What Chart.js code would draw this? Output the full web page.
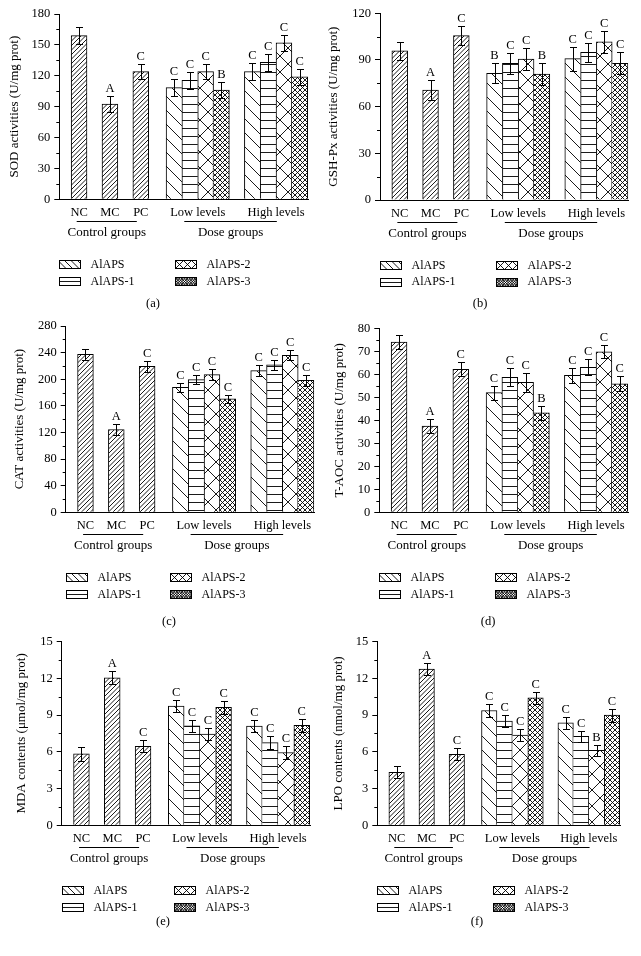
<!DOCTYPE html>
<html>
<head>
<meta charset="utf-8">
<script src="https://cdn.jsdelivr.net/npm/chart.js@4.4.1/dist/chart.umd.min.js"></script>
<style>
html, body { margin: 0; padding: 0; background: #fff; width: 641px; height: 956px; overflow: hidden; position: relative; }
canvas { position: absolute; }
</style>
</head>
<body>
<canvas id="chartA"></canvas>
<canvas id="chartB"></canvas>
<canvas id="chartC"></canvas>
<canvas id="chartD"></canvas>
<canvas id="chartE"></canvas>
<canvas id="chartF"></canvas>
<script>
const FONT = '"Liberation Serif", "DejaVu Serif", serif';

// categories / series
const groupLabels = ['NC', 'MC', 'PC', 'Low levels', 'High levels'];
const seriesNames = ['AlAPS', 'AlAPS-1', 'AlAPS-2', 'AlAPS-3'];

// (a) SOD, order NC MC PC | low: AlAPS..AlAPS-3 | high: AlAPS..AlAPS-3
const sodControl = [159, 92.5, 124];
const sodLow = [108.5, 115.5, 124, 106];
const sodHigh = [124, 133, 152, 119];
const sodErr = [8, 8, 7.5, 8, 8, 7, 8, 8.5, 8, 8, 8];
const sodLetters = ['', 'A', 'C', 'C', 'C', 'C', 'B', 'C', 'C', 'C', 'C'];

// (b) GSH-Px
const gshControl = [95.8, 70.7, 105.6];
const gshLow = [81.4, 87.9, 90.6, 81];
const gshHigh = [90.9, 94.9, 101.6, 87.9];
const gshErr = [6, 6.4, 6, 6.5, 6.8, 7, 7, 7.7, 6.2, 7, 7];
const gshLetters = ['', 'A', 'C', 'B', 'C', 'C', 'B', 'C', 'C', 'C', 'C'];

// (c) CAT
const catControl = [237.5, 124.5, 219.5];
const catLow = [188, 199.5, 207, 170.5];
const catHigh = [213, 221.5, 236, 198.5];
const catErr = [8, 8, 8.5, 7, 6.5, 8, 6.5, 8, 8, 7.5, 8];
const catLetters = ['', 'A', 'C', 'C', 'C', 'C', 'C', 'C', 'C', 'C', 'C'];

// (d) T-AOC
const aocControl = [74, 37.5, 62.2];
const aocLow = [52, 58.7, 56.5, 43.2];
const aocHigh = [59.5, 63, 69.8, 55.9];
const aocErr = [3, 3, 3, 3, 4, 4, 3, 3.3, 3.5, 2.8, 3.3];
const aocLetters = ['', 'A', 'C', 'C', 'C', 'C', 'B', 'C', 'C', 'C', 'C'];

// (e) MDA
const mdaControl = [5.83, 12.04, 6.45];
const mdaLow = [9.73, 8.12, 7.45, 9.62];
const mdaHigh = [8.09, 6.75, 5.94, 8.15];
const mdaErr = [0.55, 0.54, 0.5, 0.5, 0.5, 0.5, 0.5, 0.5, 0.5, 0.5, 0.5];
const mdaLetters = ['', 'A', 'C', 'C', 'C', 'C', 'C', 'C', 'C', 'C', 'C'];

// (f) LPO
const lpoControl = [4.33, 12.75, 5.79];
const lpoLow = [9.37, 8.5, 7.37, 10.4];
const lpoHigh = [8.37, 7.26, 6.12, 8.99];
const lpoErr = [0.5, 0.5, 0.5, 0.5, 0.5, 0.5, 0.5, 0.5, 0.45, 0.46, 0.54];
const lpoLetters = ['', 'A', 'C', 'C', 'C', 'C', 'C', 'C', 'C', 'B', 'C'];

// layout of the bars along the x axis (in bar widths)
const barPos = [1.25, 3.2, 5.15, 7.25, 8.25, 9.25, 10.25, 12.2, 13.2, 14.2, 15.2];
const tickPos = [1.25, 3.2, 5.15, 8.75, 13.7];
const xMax = 15.72;
const barKinds = ['fwd', 'fwd', 'fwd', 'back', 'horiz', 'cross', 'dense', 'back', 'horiz', 'cross', 'dense'];
const legendKinds = ['back', 'horiz', 'cross', 'dense'];

const CW = 330, CH = 326, XH = 20;

const patternCache = {};
const makePattern = (kind) => {
    if (patternCache[kind]) return patternCache[kind];
    const spec = {
        fwd: [9, 4.5, ['/']],
        back: [14, 14, ['\\']],
        horiz: [8, 8, ['-']],
        cross: [16, 16, ['/', '\\']],
        dense: [5, 5, ['/', '\\']]
    }[kind];
    const [size, step, dirs] = spec;
    const c = document.createElement('canvas');
    c.width = size;
    c.height = size;
    const g = c.getContext('2d');
    g.fillStyle = '#fff';
    g.fillRect(0, 0, size, size);
    g.strokeStyle = '#000';
    g.lineWidth = 0.9;
    g.beginPath();
    dirs.forEach(d => {
        if (d === '-') {
            for (let k = 0; k < size; k += step) { g.moveTo(0, k + 0.5); g.lineTo(size, k + 0.5); }
        } else {
            for (let k = -2 * size; k <= 3 * size; k += step) {
                if (d === '/') { g.moveTo(k, 0); g.lineTo(k - size, size); }
                else { g.moveTo(k, 0); g.lineTo(k + size, size); }
            }
        }
    });
    g.stroke();
    patternCache[kind] = g.createPattern(c, 'repeat');
    return patternCache[kind];
};

// smaller hatch for the legend boxes
const drawSwatch = (ctx, x, y, w, h, kind) => {
    const [step, dirs] = {
        back: [6.5, ['\\']],
        horiz: [4, ['-']],
        cross: [8, ['/', '\\']],
        dense: [2.6, ['/', '\\']]
    }[kind];
    ctx.save();
    ctx.fillStyle = '#fff';
    ctx.fillRect(x, y, w, h);
    ctx.beginPath();
    ctx.rect(x, y, w, h);
    ctx.clip();
    ctx.beginPath();
    ctx.lineWidth = 0.9;
    dirs.forEach(d => {
        if (d === '-') {
            for (let k = y + step; k < y + h; k += step) { ctx.moveTo(x, k); ctx.lineTo(x + w, k); }
        } else if (d === '\\') {
            for (let k = x - h; k < x + w; k += step) { ctx.moveTo(k, y); ctx.lineTo(k + h, y + h); }
        } else {
            for (let k = x; k < x + w + h; k += step) { ctx.moveTo(k, y); ctx.lineTo(k - h, y + h); }
        }
    });
    ctx.stroke();
    ctx.restore();
    ctx.strokeRect(x, y, w, h);
};

// adjacent bars share one edge, drawn by the taller one
const edgeWidths = (vals, i) => {
    const w = { top: 1, left: 1, right: 1, bottom: 0 };
    const adj = (a, b) => Math.abs(barPos[b] - barPos[a] - 1) < 0.01;
    if (i > 0 && adj(i - 1, i) && vals[i - 1] > vals[i]) w.left = 0;
    if (i < vals.length - 1 && adj(i, i + 1) && vals[i + 1] >= vals[i]) w.right = 0;
    return w;
};

const extrasPlugin = (p, values) => ({
    id: 'extras',
    afterDraw(chart) {
        const ctx = chart.ctx;
        const xs = chart.scales.x;
        const ys = chart.scales.y;
        const meta = chart.getDatasetMeta(0);
        const zero = p.zero - p.cy;
        const axisX = p.axisX - p.cx;
        ctx.save();
        ctx.strokeStyle = '#000';
        ctx.fillStyle = '#000';
        ctx.lineWidth = 1;

        // error bars and letters
        ctx.font = '12.5px ' + FONT;
        ctx.textAlign = 'center';
        ctx.textBaseline = 'alphabetic';
        values.forEach((v, i) => {
            const bar = meta.data[i];
            const x = Math.round(bar.x) + 0.5;
            const yt = Math.round(ys.getPixelForValue(v + p.err[i])) + 0.5;
            const yb = Math.round(ys.getPixelForValue(v - p.err[i])) + 0.5;
            ctx.beginPath();
            ctx.moveTo(x, yt); ctx.lineTo(x, yb);
            ctx.moveTo(x - 3.5, yt); ctx.lineTo(x + 3.5, yt);
            ctx.moveTo(x - 3.5, yb); ctx.lineTo(x + 3.5, yb);
            ctx.stroke();
            if (p.letters[i]) ctx.fillText(p.letters[i], bar.x, yt - 4.5);
        });

        // minor ticks on y axis
        ctx.beginPath();
        for (let v = p.step / 2; v < p.max; v += p.step) {
            const y = Math.round(ys.getPixelForValue(v)) + 0.5;
            ctx.moveTo(axisX - 3, y); ctx.lineTo(axisX, y);
        }
        ctx.stroke();

        // group brackets
        const groups = [[1.1, 4.9, 'Control groups'], [7.9, 13.75, 'Dose groups']];
        ctx.font = '13px ' + FONT;
        ctx.textBaseline = 'middle';
        groups.forEach(([a, b, label]) => {
            const xa = xs.getPixelForValue(a);
            const xb = xs.getPixelForValue(b);
            ctx.beginPath();
            ctx.moveTo(xa, Math.round(zero + 22) + 0.5);
            ctx.lineTo(xb, Math.round(zero + 22) + 0.5);
            ctx.stroke();
            ctx.fillText(label, (xa + xb) / 2, zero + 33.5);
        });

        // legend, two columns
        const order = [0, 2, 1, 3];
        ctx.font = '12px ' + FONT;
        ctx.textAlign = 'left';
        order.forEach((s, k) => {
            const col = k % 2;
            const row = Math.floor(k / 2);
            const lx = Math.round(axisX + (col === 0 ? 0 : p.leg2)) + 0.5;
            const ly = zero + (row === 0 ? 65 : 81.7);
            drawSwatch(ctx, lx, Math.round(ly - 4) + 0.5, 21, 8, legendKinds[s]);
            ctx.fillStyle = '#000';
            ctx.fillText(seriesNames[s], lx + 31, ly + 0.5);
        });

        // panel label
        ctx.textAlign = 'center';
        ctx.font = '12.5px ' + FONT;
        ctx.fillText(p.label, p.lx - p.cx, p.ly - p.cy);
        ctx.restore();
    }
});

const buildPanel = (id, p) => {
    const canvas = document.getElementById(id);
    canvas.width = CW;
    canvas.height = CH;
    canvas.style.left = p.cx + 'px';
    canvas.style.top = p.cy + 'px';
    const values = [...p.control, ...p.low, ...p.high];
    const padL = p.titleX - p.cx - 7.8;
    const yWidth = p.axisX - p.cx - padL;
    const plotBottom = p.zero - p.cy;
    return new Chart(canvas, {
        type: 'bar',
        data: {
            datasets: [{
                data: barPos.map((x, i) => ({ x, y: values[i] })),
                backgroundColor: barKinds.map(makePattern),
                borderColor: '#000',
                borderWidth: (c) => edgeWidths(values, c.dataIndex),
                borderSkipped: 'start',
                barPercentage: 1,
                categoryPercentage: 1
            }]
        },
        options: {
            responsive: false,
            animation: false,
            events: [],
            layout: {
                padding: {
                    left: padL,
                    top: p.top - p.cy,
                    right: CW - (p.right - p.cx),
                    bottom: CH - plotBottom - XH
                }
            },
            plugins: { legend: { display: false }, tooltip: { enabled: false } },
            scales: {
                x: {
                    type: 'linear',
                    min: 0,
                    max: xMax,
                    offset: false,
                    grid: { display: false, drawTicks: false },
                    border: { display: true, color: '#000', width: 1 },
                    afterBuildTicks: (ax) => { ax.ticks = tickPos.map(v => ({ value: v })); },
                    afterFit: (s) => { s.height = XH; },
                    ticks: {
                        autoSkip: false, maxRotation: 0, minRotation: 0, padding: 6,
                        color: '#000', font: { family: FONT, size: 12.5 },
                        callback: (v, i) => groupLabels[i]
                    }
                },
                y: {
                    min: 0,
                    max: p.max,
                    afterFit: (s) => { s.width = yWidth; },
                    ticks: { stepSize: p.step, padding: 4, color: '#000', font: { family: FONT, size: 12.5 } },
                    grid: { drawOnChartArea: false, drawTicks: true, tickLength: 5, color: '#000' },
                    border: { display: true, color: '#000', width: 1 },
                    title: { display: true, text: p.title, color: '#000', font: { family: FONT, size: 13 }, padding: 0 }
                }
            }
        },
        plugins: [extrasPlugin(p, values)]
    });
};

buildPanel('chartA', { cx: 0, cy: 0, axisX: 59.3, right: 308, top: 14, zero: 199.3, titleX: 15, leg2: 116, lx: 153, ly: 304, label: '(a)',
    title: 'SOD activities (U/mg prot)', max: 180, step: 30,
    control: sodControl, low: sodLow, high: sodHigh, err: sodErr, letters: sodLetters });
buildPanel('chartB', { cx: 320, cy: 0, axisX: 380, right: 628.3, top: 13.3, zero: 200, titleX: 333.3, leg2: 116, lx: 480, ly: 304, label: '(b)',
    title: 'GSH-Px activities (U/mg prot)', max: 120, step: 30,
    control: gshControl, low: gshLow, high: gshHigh, err: gshErr, letters: gshLetters });
buildPanel('chartC', { cx: 0, cy: 310, axisX: 65.7, right: 314.3, top: 326, zero: 512.3, titleX: 20, leg2: 104, lx: 169, ly: 622, label: '(c)',
    title: 'CAT activities (U/mg prot)', max: 280, step: 40,
    control: catControl, low: catLow, high: catHigh, err: catErr, letters: catLetters });
buildPanel('chartD', { cx: 320, cy: 310, axisX: 379.3, right: 628, top: 328.3, zero: 512.3, titleX: 340, leg2: 116, lx: 488, ly: 622, label: '(d)',
    title: 'T-AOC activities (U/mg prot)', max: 80, step: 10,
    control: aocControl, low: aocLow, high: aocHigh, err: aocErr, letters: aocLetters });
buildPanel('chartE', { cx: 0, cy: 630, axisX: 61.7, right: 310, top: 639.3, zero: 825.3, titleX: 21.7, leg2: 112, lx: 163, ly: 922, label: '(e)',
    title: 'MDA contents (\u03bcmol/mg prot)', max: 15, step: 3,
    control: mdaControl, low: mdaLow, high: mdaHigh, err: mdaErr, letters: mdaLetters });
buildPanel('chartF', { cx: 320, cy: 630, axisX: 377.3, right: 620, top: 640.7, zero: 825.3, titleX: 338.3, leg2: 116, lx: 477, ly: 922, label: '(f)',
    title: 'LPO contents (nmol/mg prot)', max: 15, step: 3,
    control: lpoControl, low: lpoLow, high: lpoHigh, err: lpoErr, letters: lpoLetters });
</script>
</body>
</html>
